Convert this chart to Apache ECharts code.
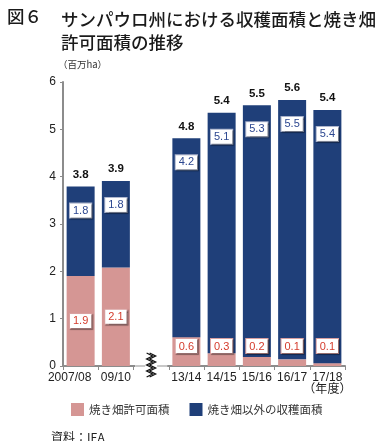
<!DOCTYPE html>
<html><head><meta charset="utf-8">
<script src="https://cdn.jsdelivr.net/npm/echarts@6/dist/echarts.min.js"></script>
<style>html,body{margin:0;padding:0;background:#fff}#c{width:390px;height:441px}</style>
</head><body><div id="c"></div>
<script>
const categories = ['2007/08', '09/10', '', '13/14', '14/15', '15/16', '16/17', '17/18'];
const permitArea = [1.90, 2.08, null, 0.61, 0.27, 0.19, 0.14, 0.06];
const otherArea = [1.89, 1.83, null, 4.20, 5.08, 5.32, 5.48, 5.35];
const permitLabels = ['1.9', '2.1', '', '0.6', '0.3', '0.2', '0.1', '0.1'];
const otherLabels = ['1.8', '1.8', '', '4.2', '5.1', '5.3', '5.5', '5.4'];
const totalLabels = ['3.8', '3.9', '', '4.8', '5.4', '5.5', '5.6', '5.4'];
const yTicks = [0, 1, 2, 3, 4, 5, 6];
const seriesNames = ['焼き畑許可面積', '焼き畑以外の収穫面積'];
const xUnit = '（年度）';
const yUnit = '（百万ha）';
const titleLead = '図６';
const titleText = 'サンパウロ州における収穫面積と焼き畑\n許可面積の推移';
const sourceText = '資料：IEA';

const FONT = "'Liberation Sans','Noto Sans CJK JP',sans-serif";
const JFONT = "'Noto Sans CJK JP',sans-serif";
const PINK = '#d59694';
const BLUE = '#1f3f79';
const AXIS = '#8c8c8c';

const chart = echarts.init(document.getElementById('c'), null, {renderer: 'canvas'});

const boxStyle = (textColor, border) => ({
  color: textColor, fontSize: 11, fontFamily: FONT,
  backgroundColor: '#fff', borderColor: border, borderWidth: 1,
  padding: [2, 3, 1, 3],
  shadowColor: 'rgba(0,0,0,0.35)', shadowOffsetX: 1, shadowOffsetY: 1, shadowBlur: 1
});

const option = {
  animation: false,
  title: [
    {text: titleLead, left: 2, top: 3, textStyle: {fontFamily: JFONT, fontSize: 17.5, fontWeight: 500, color: '#1a1a1a'}},
    {text: titleText, left: 56, top: 3, textStyle: {fontFamily: JFONT, fontSize: 17.5, fontWeight: 500, color: '#1a1a1a', lineHeight: 23}},
    {text: yUnit, left: 53, top: 55, textStyle: {fontFamily: JFONT, fontSize: 9.5, fontWeight: 'normal', color: '#333'}},
    {text: sourceText, left: 46, top: 426, textStyle: {fontFamily: JFONT, fontSize: 12, fontWeight: 'normal', color: '#222'}}
  ],
  legend: {
    left: 66, top: 398, itemWidth: 13, itemHeight: 13, itemGap: 20,
    icon: 'rect', data: seriesNames,
    textStyle: {fontFamily: JFONT, fontSize: 11.5, color: '#333'}
  },
  grid: {left: 63, right: 45, top: 82, bottom: 75},
  xAxis: {
    type: 'category', data: categories,
    axisLine: {lineStyle: {color: AXIS, width: 2}},
    axisTick: {show: true, interval: 0, length: 4, lineStyle: {color: AXIS}},
    axisLabel: {
      interval: 0, margin: 6, color: '#222', fontFamily: FONT, fontSize: 12, lineHeight: 12,
      formatter: v => v === categories[categories.length - 1] ? v + '\n' + xUnit : (v === categories[0] ? '{a|' + v + '}' : v),
      rich: {a: {fontFamily: FONT, fontSize: 12, color: '#222', padding: [0, 22, 0, 0]}}
    }
  },
  yAxis: {
    type: 'value', min: yTicks[0], max: yTicks[yTicks.length - 1], interval: 1,
    axisLine: {show: true, lineStyle: {color: AXIS, width: 2}},
    axisTick: {show: true, length: 3, lineStyle: {color: AXIS}},
    splitLine: {show: false},
    axisLabel: {margin: 7, color: '#222', fontFamily: FONT, fontSize: 12}
  },
  series: [
    {
      name: seriesNames[0], type: 'bar', stack: 's', barWidth: 28,
      itemStyle: {color: PINK},
      data: permitArea.map((v, i) => ({
        value: v,
        label: v >= 1
          ? {show: true, position: 'inside'}
          : {show: true, position: 'insideBottom', distance: 13}
      })),
      label: Object.assign({show: true, formatter: p => permitLabels[p.dataIndex]}, boxStyle('#d43b2c', '#d9a0a0'))
    },
    {
      name: seriesNames[1], type: 'bar', stack: 's', barWidth: 28,
      itemStyle: {color: BLUE},
      data: otherArea,
      label: Object.assign({
        show: true, position: ['50%', 24], align: 'center', verticalAlign: 'middle',
        formatter: p => otherLabels[p.dataIndex]
      }, boxStyle('#2c4790', '#aab3cc'))
    },
    {
      name: 'total', type: 'bar', stack: 's', barWidth: 28,
      itemStyle: {color: 'transparent'},
      data: otherArea.map(v => v == null ? null : 0),
      label: {
        show: true, position: 'top', distance: 6,
        formatter: p => totalLabels[p.dataIndex],
        color: '#111', fontFamily: FONT, fontSize: 11.5, fontWeight: 'bold'
      }
    }
  ]
};
chart.setOption(option);

// axis break marker on the empty category
const bp = chart.convertToPixel({gridIndex: 0}, [2, 0]);
const bx = bp[0], by = bp[1];
const zig = (dx) => {
  const pts = [];
  for (let k = 0; k <= 8; k++) pts.push([bx + dx + (k % 2 ? 3 : -3), by - 13 + k * 3]);
  return pts;
};
chart.setOption({
  graphic: [
    {type: 'rect', shape: {x: bx - 16, y: by - 2, width: 32, height: 4}, style: {fill: '#fff'}, z: 100},
    {type: 'line', shape: {x1: bx - 16, y1: by, x2: bx + 16, y2: by}, style: {stroke: '#c8c8c8', lineWidth: 2}, z: 101},
    {type: 'rect', shape: {x: bx - 6, y: by - 14, width: 12, height: 28}, style: {fill: '#fff'}, z: 102},
    {type: 'polyline', shape: {points: zig(-1.5)}, style: {stroke: '#111', lineWidth: 1.3, fill: null}, z: 103},
    {type: 'polyline', shape: {points: zig(1.5)}, style: {stroke: '#111', lineWidth: 1.3, fill: null}, z: 103}
  ]
});
</script></body></html>
